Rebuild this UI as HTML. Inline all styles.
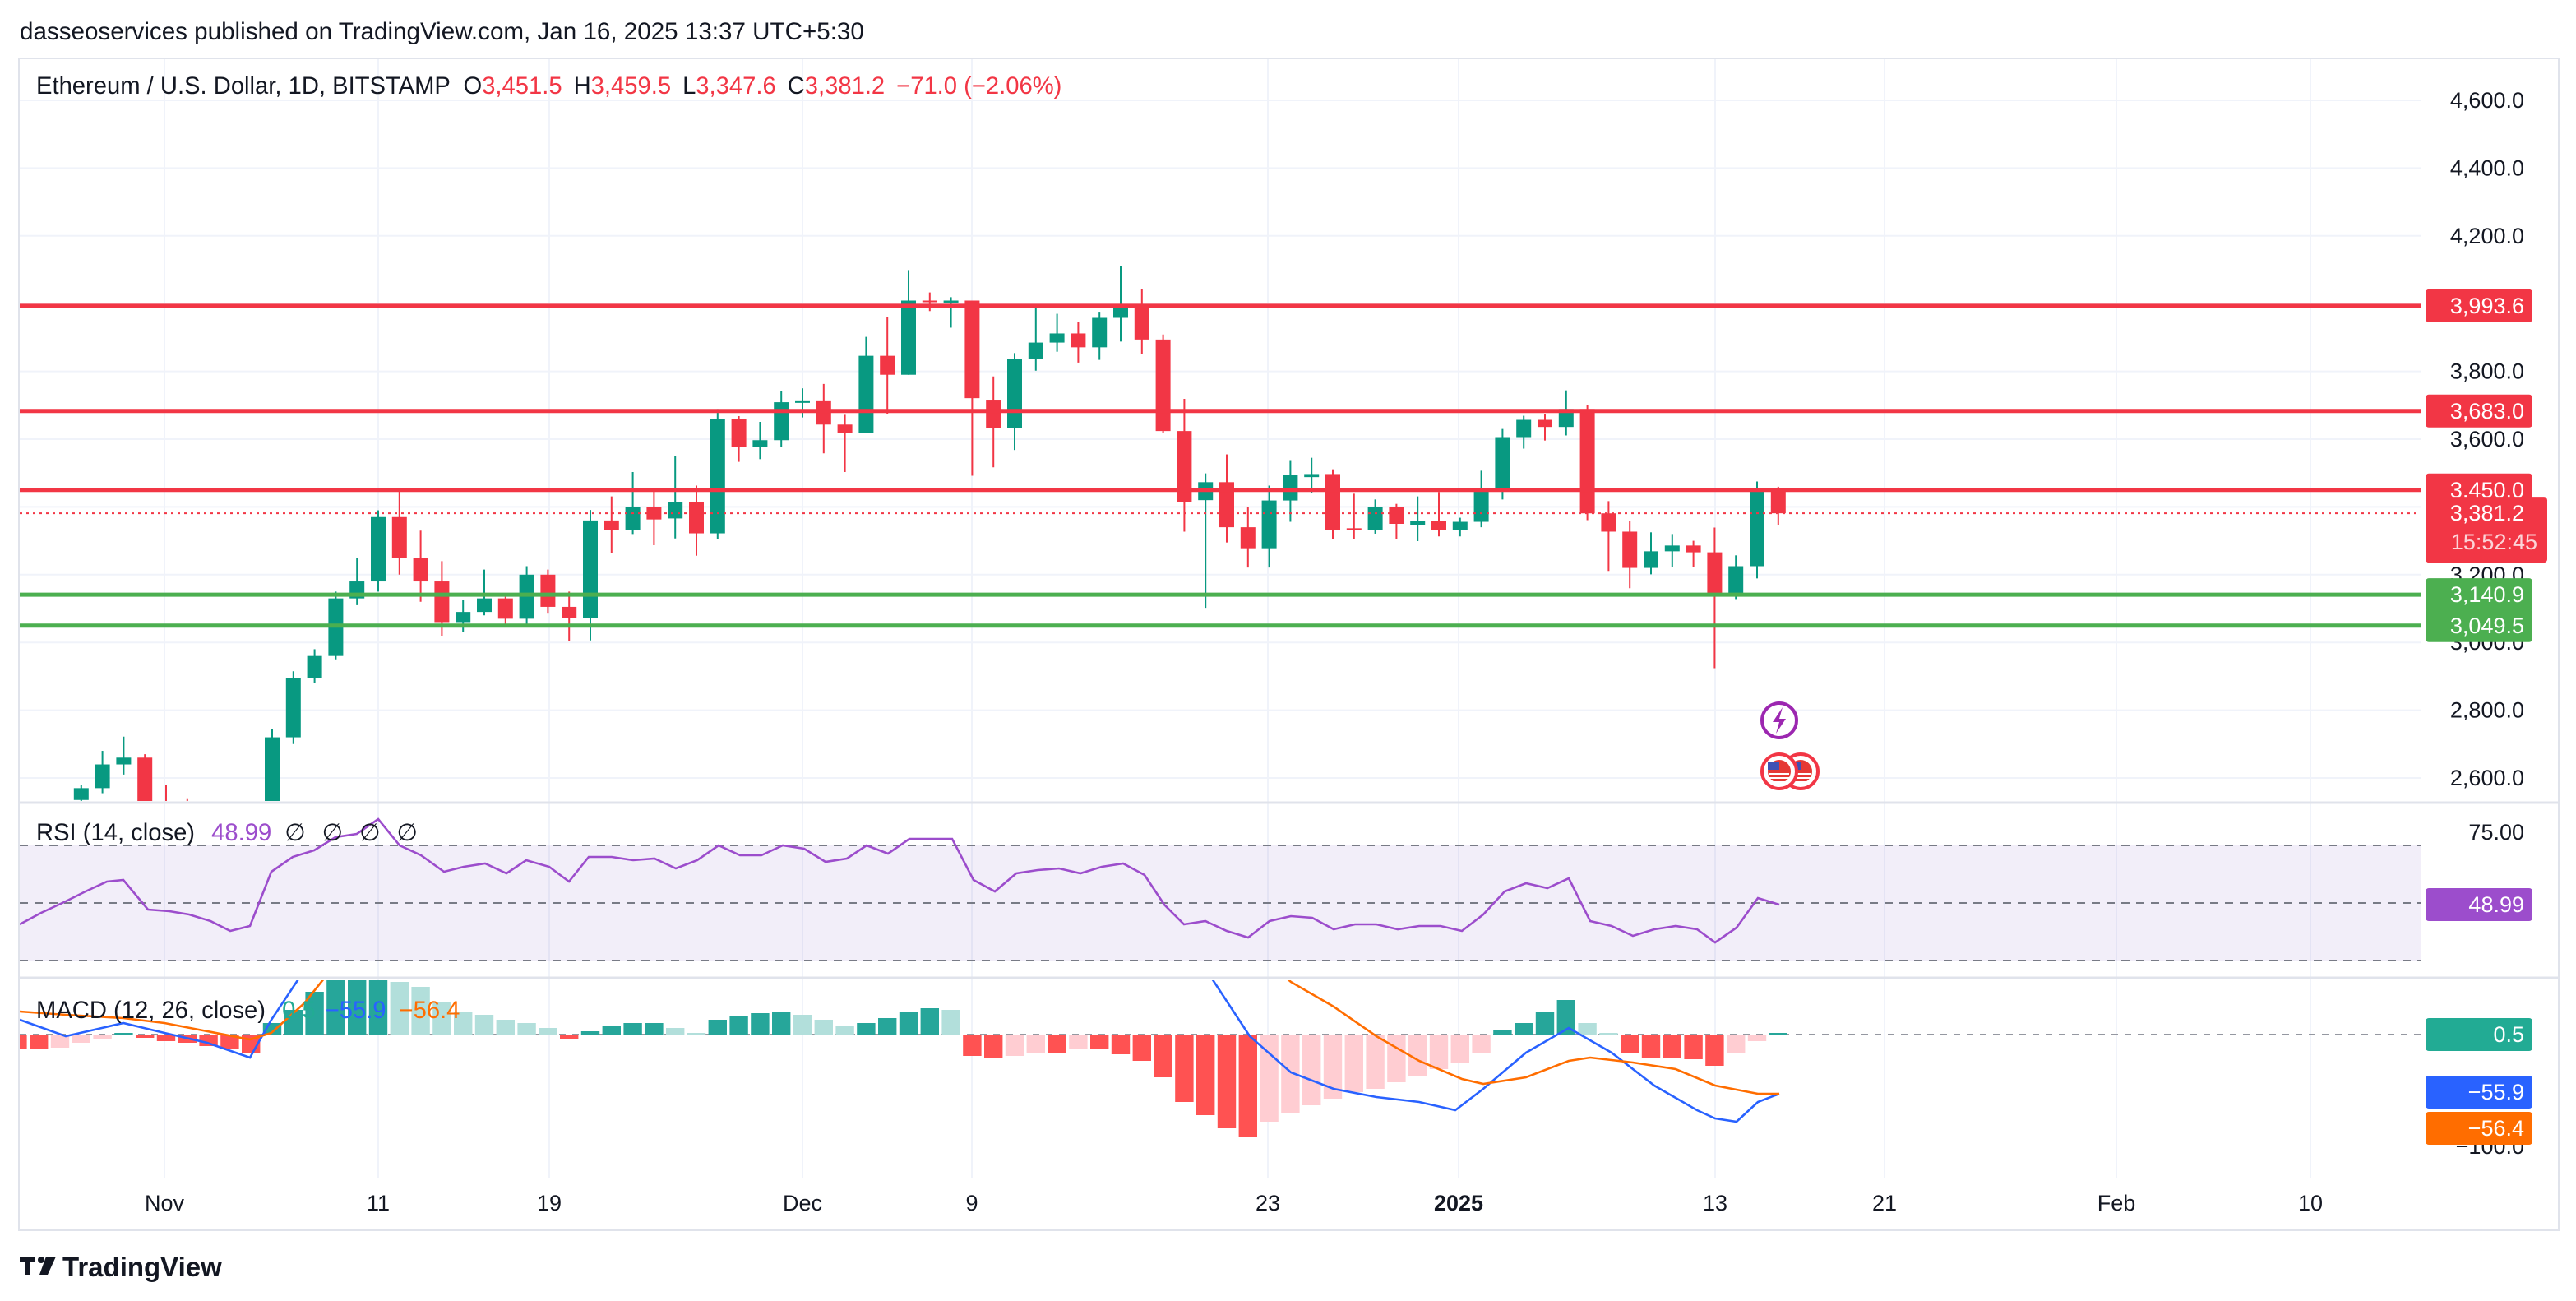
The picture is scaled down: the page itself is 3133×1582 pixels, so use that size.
<!DOCTYPE html>
<html><head><meta charset="utf-8"><style>
html,body{margin:0;padding:0;background:#fff;width:3133px;height:1582px;overflow:hidden}
svg{display:block}
text{font-family:"Liberation Sans","DejaVu Sans",sans-serif}
</style></head><body>
<svg id="s" xmlns="http://www.w3.org/2000/svg" width="3133" height="1582" viewBox="0 0 1566.5 791">
<defs>
<clipPath id="cp"><rect x="12" y="36" width="1460" height="451"/></clipPath>
<clipPath id="cr"><rect x="12" y="489" width="1460" height="105"/></clipPath>
<clipPath id="cm"><rect x="12" y="596" width="1460" height="120"/></clipPath>
</defs>
<rect x="0" y="0" width="1566.5" height="791" fill="#fff"/>
<text x="12" y="24" font-size="14.8" fill="#131722">dasseoservices published on TradingView.com, Jan 16, 2025 13:37 UTC+5:30</text>
<rect x="11.5" y="35.5" width="1544.5" height="712.5" fill="none" stroke="#e0e3eb" stroke-width="1"/>
<g id="grid"></g>
<line x1="12" y1="488" x2="1556" y2="488" stroke="#e0e3eb" stroke-width="1.5"/>
<line x1="12" y1="594.5" x2="1556" y2="594.5" stroke="#e0e3eb" stroke-width="1.5"/>
<g id="price" clip-path="url(#cp)"></g>
<g id="rsi" clip-path="url(#cr)"></g>
<g id="macd" clip-path="url(#cm)"></g>
<g id="axis"></g>
<text x="22" y="57" font-size="14.6" fill="#131722">Ethereum / U.S. Dollar, 1D, BITSTAMP <tspan dx="4">O</tspan><tspan fill="#f23645">3,451.5</tspan><tspan dx="7">H</tspan><tspan fill="#f23645">3,459.5</tspan><tspan dx="7">L</tspan><tspan fill="#f23645">3,347.6</tspan><tspan dx="7">C</tspan><tspan fill="#f23645">3,381.2</tspan><tspan dx="7" fill="#f23645">−71.0 (−2.06%)</tspan></text>
<text x="22" y="511" font-size="14.6" fill="#131722">RSI (14, close) <tspan dx="6" fill="#9c4dcc">48.99</tspan><tspan dx="8">∅</tspan><tspan dx="10">∅</tspan><tspan dx="10">∅</tspan><tspan dx="10">∅</tspan></text>
<text x="22" y="619" font-size="14.6" fill="#131722">MACD (12, 26, close) <tspan dx="6" fill="#22ab94">0.5</tspan><tspan dx="6" fill="#2962ff">−55.9</tspan><tspan dx="8" fill="#ff6d00">−56.4</tspan></text>
<g transform="translate(12,762)"><rect x="0" y="2" width="9" height="3.5" fill="#131722"/><rect x="3" y="2" width="3.5" height="11" fill="#131722"/><circle cx="13" cy="4" r="2" fill="#131722"/><path d="M16 2 L22 2 L17 13 L12 13 Z" fill="#131722"/></g>
<text x="38" y="776" font-size="16.5" font-weight="bold" fill="#131722">TradingView</text>
</svg>
<script>
(function(){
var NS="http://www.w3.org/2000/svg";
function el(p,tag,a,txt){var e=document.createElementNS(NS,tag);for(var k in a)e.setAttribute(k,a[k]);if(txt!==undefined)e.textContent=txt;document.getElementById(p).appendChild(e);return e;}
function X(d){return 230+(d-14)*12.9;}
function Y(p){return 61+(4600-p)*0.206;}
var G="#089981",R="#f23645";
var vx=[100,230,334,488,591,771,887,1043,1146,1287,1405];
vx.forEach(function(x){el("grid","line",{x1:x,y1:36,x2:x,y2:716,stroke:"#f0f3fa","stroke-width":1});});
for(var p=2600;p<=4600;p+=200){el("grid","line",{x1:12,y1:Y(p),x2:1472,y2:Y(p),stroke:"#f0f3fa","stroke-width":1});}
var C=[
[0,2535,2580,2480,2570],[1,2570,2680,2555,2640],[2,2640,2722,2610,2660],[3,2660,2670,2500,2520],
[4,2520,2580,2470,2510],[5,2510,2540,2460,2490],[6,2490,2500,2430,2460],[7,2460,2480,2390,2400],[8,2400,2450,2360,2420],
[9,2420,2745,2400,2720],[10,2720,2915,2700,2895],[11,2895,2980,2880,2960],[12,2960,3150,2950,3130],[13,3130,3250,3110,3180],
[14,3180,3390,3150,3370],[15,3370,3445,3200,3250],[16,3250,3330,3120,3180],[17,3180,3240,3020,3060],[18,3060,3125,3030,3090],
[19,3090,3215,3080,3130],[20,3130,3135,3050,3070],[21,3070,3225,3050,3200],[22,3200,3215,3085,3105],[23,3105,3150,3005,3071],
[24,3071,3391,3006,3360],[25,3360,3431,3263,3332],[26,3332,3503,3320,3399],[27,3399,3446,3287,3363],[28,3366,3549,3307,3414],
[29,3414,3463,3256,3322],[30,3322,3689,3305,3660],[31,3660,3668,3533,3578],[32,3578,3651,3541,3597],[33,3597,3741,3576,3709],
[34,3709,3750,3664,3712],[35,3712,3763,3558,3643],[36,3643,3672,3503,3619],[37,3619,3902,3619,3846],[38,3846,3960,3673,3790],
[39,3790,4099,3790,4009],[40,4009,4033,3978,4007],[41,4003,4019,3929,4009],[42,4009,4009,3492,3721],[43,3714,3785,3517,3632],
[44,3632,3854,3568,3836],[45,3836,3992,3802,3885],[46,3885,3970,3858,3912],[47,3912,3946,3826,3871],[48,3871,3976,3834,3958],
[49,3958,4112,3888,3992],[50,3992,4043,3850,3894],[51,3894,3909,3619,3624],[52,3624,3719,3327,3415],[53,3420,3499,3102,3473],
[54,3473,3555,3295,3340],[55,3340,3400,3221,3278],[56,3278,3463,3221,3419],[57,3419,3538,3356,3494],[58,3488,3545,3442,3497],
[59,3497,3511,3306,3333],[60,3337,3439,3306,3333],[61,3333,3422,3321,3400],[62,3400,3409,3306,3350],[63,3347,3431,3299,3359],
[64,3359,3444,3313,3333],[65,3333,3368,3313,3356],[66,3356,3507,3340,3453],[67,3453,3630,3422,3606],[68,3606,3669,3572,3657],
[69,3657,3674,3596,3636],[70,3636,3744,3611,3689],[71,3689,3701,3361,3381],[72,3381,3417,3211,3327],[73,3327,3359,3160,3220],
[74,3220,3325,3201,3269],[75,3269,3320,3223,3286],[76,3286,3300,3223,3266],[77,3266,3339,2924,3138],[78,3138,3257,3128,3225],
[79,3225,3475,3189,3453],[80,3451.5,3459.5,3347.6,3381.2]];
C.forEach(function(c){var x=X(c[0]),col=c[4]>=c[1]?G:R;
el("price","line",{x1:x,y1:Y(c[2]),x2:x,y2:Y(c[3]),stroke:col,"stroke-width":1});
var t=Y(Math.max(c[1],c[4])),b=Y(Math.min(c[1],c[4]));if(b-t<1)b=t+1;
el("price","rect",{x:x-4.5,y:t,width:9,height:b-t,fill:col});});
[[3993.6,R],[3683,R],[3450,R],[3140.9,"#4caf50"],[3049.5,"#4caf50"]].forEach(function(l){
el("price","line",{x1:12,y1:Y(l[0]),x2:1472,y2:Y(l[0]),stroke:l[1],"stroke-width":2.5});});
el("price","line",{x1:12,y1:Y(3381.2),x2:1472,y2:Y(3381.2),stroke:R,"stroke-width":1,"stroke-dasharray":"1.5 2.5"});
el("price","circle",{cx:1082,cy:438,r:10.5,fill:"#fff",stroke:"#9c27b0","stroke-width":2});
el("price","path",{d:"M1084 430 L1078 439 L1082 439 L1080 446 L1086 437 L1082 437 Z",fill:"#9c27b0"});
[1095,1082].forEach(function(cx){el("price","circle",{cx:cx,cy:469,r:10.5,fill:"#fff",stroke:R,"stroke-width":2});
el("price","circle",{cx:cx,cy:469,r:7,fill:"#e53935"});
el("price","rect",{x:cx-7,y:463,width:7,height:5,fill:"#3f51b5"});
for(var i=0;i<3;i++)el("price","rect",{x:cx-6,y:470+i*2.5,width:12,height:1,fill:"#fff"});});
el("rsi","rect",{x:12,y:514,width:1460,height:70,fill:"#7e57c2","fill-opacity":0.1});
[514,549,584].forEach(function(y){el("rsi","line",{x1:12,y1:y,x2:1472,y2:y,stroke:"#787b86","stroke-width":1,"stroke-dasharray":"5 4"});});
var rs=[[12,562],[25,555],[40,548],[52,542],[65,536],[75,535],[90,553],[103,554],[115,556],[128,560],[140,566],[152,563],[165,530],[178,521],[191,517],[204,509],[217,507],[230,498],[243,514],[256,520],[270,530],[282,527],[295,525],[308,531],[320,523],[334,527],[346,536],[358,521],[372,521],[385,523],[398,522],[411,528],[424,523],[437,514],[450,520],[463,520],[476,514],[489,516],[502,524],[515,522],[527,514],[540,519],[553,510],[566,510],[579,510],[592,535],[605,542],[618,531],[631,529],[644,528],[657,531],[670,527],[683,525],[696,532],[708,550],[720,562],[733,560],[746,566],[759,570],[772,560],[785,557],[798,558],[811,565],[824,562],[837,562],[850,565],[863,563],[876,563],[889,566],[902,556],[915,542],[928,537],[941,540],[954,534],[967,560],[980,563],[993,569],[1006,565],[1019,563],[1032,565],[1043,573],[1056,564],[1069,546],[1082,550]];
el("rsi","polyline",{points:rs.map(function(p){return p.join(",")}).join(" "),fill:"none",stroke:"#9c4dcc","stroke-width":1.3});
el("macd","line",{x1:12,y1:629,x2:1472,y2:629,stroke:"#9598a1","stroke-width":1,"stroke-dasharray":"4 4"});
var h=[638,638,637,634,632,628,631,633,634,636,638,640,622,614,603,595,595,595,597,600,609,615,617,620,622,625,632,627,624,622,622,625,628,620,618,616,615,617,620,624,622,619,615,613,614,642,643,642,640,640,638,638,641,645,655,670,678,686,691,682,677,672,668,664,662,658,654,650,646,640,626,622,615,608,622,628,640,643,643,644,648,640,633,628];
var prev=629;
h.forEach(function(v,i){var d=i-3,x=X(d),col;
if(v<=629){col=(v<=prev)?"#26a69a":"#b2dfdb";}else{col=(v>=prev)?"#ff5252":"#ffcdd2";}
var t=Math.min(v,629),b=Math.max(v,629);el("macd","rect",{x:x-5.6,y:t,width:11.2,height:Math.max(b-t,0.8),fill:col});prev=v;});
var bl=[[12,620],[40,630],[75,622],[100,628],[126,634],[152,643],[165,620],[185,590],[200,540],[720,540],[737,595],[760,630],[785,652],[811,662],[837,667],[863,670],[885,675],[902,662],[928,640],[954,625],[980,640],[1006,660],[1032,675],[1043,680],[1056,682],[1069,670],[1082,665]];
var ol=[[12,615],[40,617],[75,619],[100,622],[126,627],[152,632],[165,628],[185,610],[205,585],[760,575],[785,597],[811,612],[837,630],[863,645],[889,656],[902,659],[928,655],[954,645],[967,643],[993,646],[1019,650],[1043,660],[1069,665],[1082,665]];
el("macd","polyline",{points:bl.map(function(p){return p.join(",")}).join(" "),fill:"none",stroke:"#2962ff","stroke-width":1.3});
el("macd","polyline",{points:ol.map(function(p){return p.join(",")}).join(" "),fill:"none",stroke:"#ff6d00","stroke-width":1.3});
function lab(y,t){el("axis","text",{x:1535,y:y+4.5,"font-size":13.5,fill:"#131722","text-anchor":"end"},t);}
[[4600,"4,600.0"],[4400,"4,400.0"],[4200,"4,200.0"],[3800,"3,800.0"],[3600,"3,600.0"],[3200,"3,200.0"],[3000,"3,000.0"],[2800,"2,800.0"],[2600,"2,600.0"]].forEach(function(a){lab(Y(a[0]),a[1]);});
lab(506,"75.00");lab(697,"−100.0");
function box(y,t,col){el("axis","rect",{x:1475,y:y-10,width:65,height:20,rx:2,fill:col});
el("axis","text",{x:1535,y:y+4.5,"font-size":13.5,fill:"#fff","text-anchor":"end"},t);}
box(Y(3993.6),"3,993.6",R);box(Y(3683),"3,683.0",R);box(Y(3450),"3,450.0",R);
el("axis","rect",{x:1475,y:Y(3381.2)-10,width:74,height:40,rx:2,fill:R});
el("axis","text",{x:1535,y:Y(3381.2)+4.5,"font-size":13.5,fill:"#fff","text-anchor":"end"},"3,381.2");
el("axis","text",{x:1543,y:Y(3381.2)+22,"font-size":13.5,fill:"#fcd4d8","text-anchor":"end"},"15:52:45");
box(Y(3140.9),"3,140.9","#4caf50");box(Y(3049.5),"3,049.5","#4caf50");
box(550,"48.99","#9c4dcc");box(629,"0.5","#22ab94");box(664,"−55.9","#2962ff");box(686,"−56.4","#ff6d00");
[[100,"Nov"],[230,"11"],[334,"19"],[488,"Dec"],[591,"9"],[771,"23"],[887,"2025"],[1043,"13"],[1146,"21"],[1287,"Feb"],[1405,"10"]].forEach(function(a){
var e=el("axis","text",{x:a[0],y:736,"font-size":13.5,fill:"#131722","text-anchor":"middle"},a[1]);if(a[1]=="2025")e.setAttribute("font-weight","bold");});
})();
</script>
</body></html>
